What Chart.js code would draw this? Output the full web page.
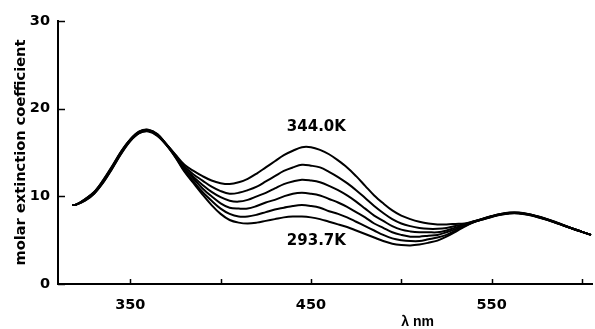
<!DOCTYPE html>
<html><head><meta charset="utf-8">
<script src="https://cdn.jsdelivr.net/npm/chart.js@4.4.1/dist/chart.umd.min.js"></script>
<style>html,body{margin:0;padding:0;background:#fff}#wrap{width:595px;height:329px;position:relative}</style>
</head><body><div id="wrap"><canvas id="c" width="595" height="329"></canvas></div>
<script>
const wavelengths = [318,320,325,330,335,340,345,350,355,360,365,370,375,380,385,390,395,400,405,410,415,420,425,430,435,440,445,450,455,460,465,470,475,480,485,490,495,500,505,510,515,520,525,530,535,540,545,550,555,560,565,570,575,580,585,590,595,600,605];

const curve344_0K = [9.0,9.05,9.7,10.5,11.85,13.45,15.15,16.5,17.4,17.6,17.1,15.95,14.75,
  13.6,12.9,12.3,11.8,11.5,11.4,11.6,12.0,12.6,13.3,14.0,14.7,15.2,15.6,15.6,15.3,14.8,14.1,13.3,12.3,11.2,10.1,9.2,8.4,7.8,7.4,7.1,6.9,6.8,6.8,6.85,6.9,
  7.15,7.45,7.75,8.0,8.15,8.15,8.0,7.75,7.45,7.1,6.7,6.3,5.95,5.6];
const curve2 = [9.0,9.05,9.67,10.47,11.8,13.4,15.1,16.47,17.37,17.57,17.07,15.93,14.7,
  13.4,12.5,11.8,11.1,10.6,10.3,10.4,10.7,11.1,11.7,12.3,12.9,13.3,13.6,13.5,13.3,12.8,12.2,11.5,10.7,9.8,8.9,8.1,7.4,6.9,6.6,6.4,6.3,6.3,6.4,6.62,6.81,
  7.12,7.43,7.73,7.98,8.13,8.13,7.98,7.73,7.43,7.08,6.69,6.3,5.95,5.6];
const curve3 = [9.0,9.05,9.63,10.43,11.75,13.35,15.05,16.43,17.33,17.53,17.03,15.91,14.63,
  13.2,12.2,11.3,10.5,9.9,9.5,9.4,9.6,10.0,10.4,10.9,11.4,11.7,11.9,11.8,11.6,11.2,10.7,10.1,9.4,8.6,7.8,7.2,6.6,6.2,6.0,5.9,5.9,5.9,6.1,6.43,6.74,
  7.1,7.41,7.71,7.96,8.11,8.11,7.96,7.71,7.41,7.06,6.68,6.3,5.95,5.6];
const curve4 = [9.0,9.05,9.58,10.38,11.67,13.27,14.97,16.38,17.28,17.48,16.98,15.89,14.56,
  13.1,12.0,10.9,10.0,9.2,8.7,8.6,8.6,8.9,9.3,9.6,10.0,10.3,10.4,10.3,10.1,9.7,9.3,8.8,8.2,7.6,6.9,6.4,5.9,5.6,5.4,5.4,5.5,5.6,5.9,6.26,6.67,
  7.08,7.39,7.69,7.94,8.09,8.09,7.94,7.69,7.39,7.04,6.67,6.3,5.95,5.6];
const curve5 = [9.0,9.05,9.54,10.33,11.62,13.22,14.92,16.33,17.24,17.44,16.94,15.87,14.5,
  12.9,11.7,10.5,9.5,8.6,8.0,7.7,7.7,7.9,8.2,8.5,8.7,8.9,9.0,8.9,8.7,8.3,8.0,7.6,7.1,6.6,6.1,5.6,5.2,5.0,4.9,4.9,5.1,5.3,5.6,6.09,6.61,
  7.06,7.37,7.67,7.92,8.07,8.07,7.92,7.67,7.37,7.02,6.66,6.3,5.95,5.6];
const curve293_7K = [9.0,9.05,9.5,10.3,11.55,13.15,14.85,16.3,17.2,17.4,16.9,15.85,14.45,
  12.8,11.5,10.2,9.0,8.0,7.3,7.0,6.9,7.0,7.2,7.4,7.6,7.7,7.7,7.6,7.4,7.1,6.8,6.5,6.1,5.7,5.3,4.9,4.6,4.45,4.4,4.5,4.7,4.95,5.4,5.95,6.55,
  7.05,7.35,7.65,7.9,8.05,8.05,7.9,7.65,7.35,7.0,6.65,6.3,5.95,5.6];

const xTickValues = [350,400,450,500,550,600];
const xTickLabels = ['350','','450','','550',''];
const yTickValues = [0,10,20,30];
const yTickLabels = ['0','10','20','30'];
const curveLabels = ['344.0K','293.7K'];
const curveLabelX = [453,453];
const curveLabelY = [17.9,4.85];
const xTitle = 'λ nm';
const xTitleAt = 509;
const yTitle = 'molar extinction coefficient';

const series = [curve344_0K, curve2, curve3, curve4, curve5, curve293_7K];
const datasets = series.map(s => ({
  data: wavelengths.map((w,i) => ({x:w, y:s[i]})),
  borderColor:'#000', borderWidth:2, pointRadius:0, tension:0.35, fill:false
}));

const decor = {
  id:'decor',
  afterDraw(chart){
    const ctx = chart.ctx, xs = chart.scales.x, ys = chart.scales.y;
    ctx.save();
    ctx.strokeStyle='#000'; ctx.lineWidth=1.5;
    xTickValues.forEach(v=>{
      const px = Math.round(xs.getPixelForValue(v))+0.5;
      ctx.beginPath(); ctx.moveTo(px, ys.bottom); ctx.lineTo(px, ys.bottom-5); ctx.stroke();
    });
    yTickValues.forEach(v=>{
      const py = Math.round(ys.getPixelForValue(v))+0.5;
      ctx.beginPath(); ctx.moveTo(xs.left, py); ctx.lineTo(xs.left+7, py); ctx.stroke();
    });
    ctx.fillStyle='#000';
    ctx.textAlign='center'; ctx.textBaseline='middle';
    ctx.font='bold 15px "DejaVu Sans"';
    curveLabels.forEach((t,i)=>{
      ctx.fillText(t, xs.getPixelForValue(curveLabelX[i]), ys.getPixelForValue(curveLabelY[i]));
    });
    ctx.font='bold 14px "Liberation Sans"';
    ctx.fillText(xTitle, xs.getPixelForValue(xTitleAt), 322);
    ctx.restore();
  }
};

new Chart(document.getElementById('c'), {
  type:'line',
  data:{datasets},
  plugins:[decor],
  options:{
    responsive:false, animation:false, devicePixelRatio:1,
    layout:{padding:{top:21,right:1,left:0,bottom:0}},
    plugins:{legend:{display:false}, tooltip:{enabled:false}},
    scales:{
      x:{type:'linear', min:310, max:606,
        afterBuildTicks(s){ s.ticks = xTickValues.map(v=>({value:v})); },
        afterFit(s){ s.height = 45; },
        grid:{display:false, drawTicks:false},
        border:{display:true,color:'#000',width:2},
        ticks:{padding:13, color:'#000', font:{family:'DejaVu Sans',size:14.5,weight:'bold'},
          callback:(v)=>{ const i = xTickValues.indexOf(v); return i>=0 ? xTickLabels[i] : ''; },
          maxRotation:0, autoSkip:false}
      },
      y:{type:'linear', min:0, max:30,
        afterBuildTicks(s){ s.ticks = yTickValues.map(v=>({value:v})); },
        afterFit(s){ s.width = 58; },
        grid:{display:false, drawTicks:false},
        border:{display:true,color:'#000',width:2},
        ticks:{padding:8, color:'#000', font:{family:'DejaVu Sans',size:14.5,weight:'bold'},
          callback:(v)=>{ const i = yTickValues.indexOf(v); return i>=0 ? yTickLabels[i] : ''; }},
        title:{display:true, text:yTitle, color:'#000', padding:{top:12,bottom:0},
          font:{family:'DejaVu Sans',size:14.6,weight:'bold'}}
      }
    }
  }
});
</script>
</body></html>
